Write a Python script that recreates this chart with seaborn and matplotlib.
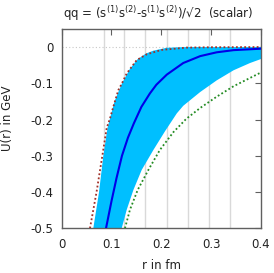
import matplotlib
matplotlib.use("Agg")
import matplotlib.pyplot as plt
import seaborn as sns
import pandas as pd

# values (r in fm, U in GeV)
r_central = [0.089, 0.1, 0.11, 0.121, 0.133, 0.145, 0.16, 0.177, 0.19, 0.211, 0.244, 0.278, 0.311, 0.345, 0.4]
u_central = [-0.5, -0.425, -0.362, -0.30, -0.25, -0.21, -0.165, -0.128, -0.104, -0.076, -0.044, -0.025, -0.0145, -0.0085, -0.0045]

r_band_up = [0.0635, 0.075, 0.0836, 0.092, 0.106, 0.121, 0.137, 0.152, 0.169, 0.184, 0.211, 0.25, 0.4]
u_band_up = [-0.5, -0.4, -0.3, -0.223, -0.15, -0.10, -0.06, -0.034, -0.018, -0.010, -0.002, 0.0, 0.0]

r_band_lo = [0.1205, 0.1305, 0.144, 0.1606, 0.184, 0.2075, 0.231, 0.244, 0.278, 0.311, 0.345, 0.378, 0.4]
u_band_lo = [-0.5, -0.449, -0.394, -0.339, -0.284, -0.232, -0.183, -0.162, -0.124, -0.092, -0.064, -0.044, -0.033]

r_red = [0.0568, 0.070, 0.0816, 0.0904, 0.097, 0.1036, 0.1137, 0.121, 0.1305, 0.1506, 0.1707, 0.2, 0.25, 0.3, 0.4]
u_red = [-0.5, -0.4, -0.30, -0.223, -0.197, -0.165, -0.119, -0.10, -0.073, -0.036, -0.020, -0.008, -0.0015, -0.0005, 0.0]

r_green = [0.127, 0.137, 0.1526, 0.174, 0.197, 0.224, 0.25, 0.278, 0.311, 0.345, 0.4]
u_green = [-0.5, -0.449, -0.394, -0.339, -0.284, -0.235, -0.198, -0.168, -0.137, -0.108, -0.070]

grid_r = [0.084, 0.126, 0.168, 0.211, 0.253, 0.295, 0.337]

x_ticks = [0, 0.1, 0.2, 0.3, 0.4]
x_labels = ["0", "0.1", "0.2", "0.3", "0.4"]
y_ticks = [0, -0.1, -0.2, -0.3, -0.4, -0.5]
y_labels = ["0", "-0.1", "-0.2", "-0.3", "-0.4", "-0.5"]

sns.set_theme(style="white")
plt.rcParams['font.family'] = ['DejaVu Sans']
plt.rcParams['mathtext.fontset'] = 'dejavusans'

fig = plt.figure(figsize=(2.74, 2.73), dpi=100)
ax = fig.add_axes([0.225, 0.1637, 0.7276, 0.729])

for g in grid_r:
    ax.axvline(g, color="#d9d9d9", lw=1.0, zorder=0)
ax.axhline(0, color="#c8c8c8", lw=0.8, ls=(0, (1, 2)), zorder=0)

band_r = r_band_up + r_band_lo[::-1]
band_u = u_band_up + u_band_lo[::-1]
ax.fill(band_r, band_u, color="#00bfff", lw=0, zorder=1)

df_c = pd.DataFrame({"r": r_central, "U": u_central})
df_red = pd.DataFrame({"r": r_red, "U": u_red})
df_green = pd.DataFrame({"r": r_green, "U": u_green})

sns.lineplot(data=df_red, x="r", y="U", ax=ax, color="#a03028", lw=1.3,
             linestyle=(0, (1, 1.3)), zorder=3)
sns.lineplot(data=df_green, x="r", y="U", ax=ax, color="#228b22", lw=1.3,
             linestyle=(0, (1, 1.3)), zorder=3)
sns.lineplot(data=df_c, x="r", y="U", ax=ax, color="#0000e8", lw=1.5, zorder=4)

ax.set_xlim(0, 0.4)
ax.set_ylim(-0.5, 0.049)
ax.set_xticks(x_ticks)
ax.set_xticklabels(x_labels)
ax.set_yticks(y_ticks)
ax.set_yticklabels(y_labels)
ax.tick_params(direction="in", length=4, width=0.8, color="#606060",
               top=True, right=True, labelsize=8.5, labelcolor="#222222")
ax.tick_params(axis="x", pad=7)
ax.tick_params(axis="y", pad=6)
for s in ax.spines.values():
    s.set_color("#606060")
    s.set_linewidth(1.0)

ax.set_xlabel("r in fm", fontsize=8.5, color="#222222")
ax.set_ylabel("U(r) in GeV", fontsize=8.5, color="#222222")
ax.xaxis.set_label_coords(0.5, -0.152)
ax.yaxis.set_label_coords(-0.24, 0.555)

fig.text(0.578, 0.952, r"qq = (s$^{(1)}$s$^{(2)}$-s$^{(1)}$s$^{(2)}$)/√2  (scalar)",
         ha="center", va="center", fontsize=8.5, color="#222222")

fig.savefig("out.png", dpi=100)
